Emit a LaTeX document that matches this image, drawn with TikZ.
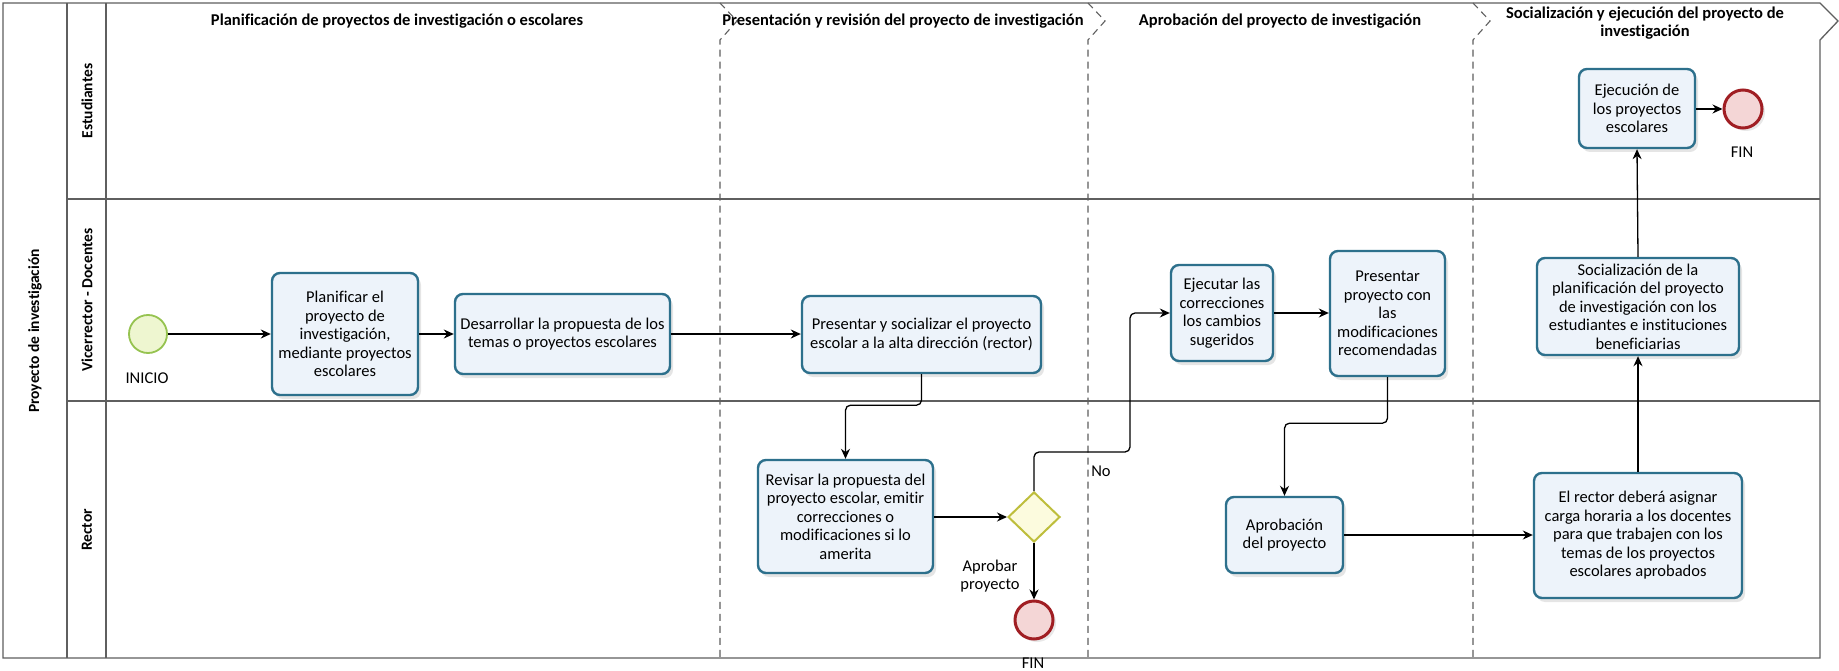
\documentclass[tikz,border=0pt]{standalone}
\usepackage{fontspec}
\setmainfont{Carlito}[Ligatures={NoCommon}]
\usetikzlibrary{shapes.geometric,arrows.meta,shadows}

\definecolor{taskfill}{RGB}{237,243,250}
\definecolor{taskline}{RGB}{45,112,140}
\definecolor{startfill}{RGB}{238,246,208}
\definecolor{startline}{RGB}{150,195,80}
\definecolor{gwfill}{RGB}{252,251,222}
\definecolor{gwline}{RGB}{190,190,60}
\definecolor{endfill}{RGB}{244,214,214}
\definecolor{endline}{RGB}{160,30,35}
\definecolor{poolline}{RGB}{95,95,95}

\tikzset{
  txt/.style={font=\fontsize{16.5}{18.5}\selectfont},
  hdr/.style={font=\fontsize{16.5}{18.5}\selectfont\bfseries, align=center},
  lanelbl/.style={font=\fontsize{15.5}{18}\selectfont\bfseries, rotate=90},
  task/.style={txt, rectangle, rounded corners=8pt, draw=taskline, line width=2.4pt,
    fill=taskfill, align=center, inner sep=1pt,
    drop shadow={opacity=0.2, shadow xshift=3pt, shadow yshift=-4pt}},
  startev/.style={circle, draw=startline, fill=startfill, line width=1.8pt,
    minimum size=38pt, inner sep=0pt},
  endev/.style={circle, draw=endline, fill=endfill, line width=3pt,
    minimum size=38pt, inner sep=0pt,
    drop shadow={opacity=0.18, shadow xshift=3pt, shadow yshift=-3pt}},
  gateway/.style={diamond, draw=gwline, fill=gwfill, line width=2pt,
    minimum width=52pt, minimum height=50pt, inner sep=0pt},
  flow/.style={draw=black, line width=1.3pt, rounded corners=5pt,
    -{Stealth[length=10pt,width=9pt]}},
  frame/.style={draw=poolline, line width=1.3pt},
  phase/.style={draw=poolline, line width=1.1pt, dash pattern=on 7pt off 5pt},
}

\begin{document}
\begin{tikzpicture}[x=1pt,y=-1pt]
\useasboundingbox (0,0) rectangle (1839,671);
\fill[white] (0,0) rectangle (1839,671);

% pool outline with the arrow-shaped last phase header
\draw[frame] (3,3) -- (1820,3) -- (1838,21) -- (1820,40) -- (1820,658) -- (3,658) -- cycle;
\draw[frame] (67,3) -- (67,658);
\draw[frame] (106,3) -- (106,658);
\draw[frame] (67,199) -- (1820,199);
\draw[frame] (67,401) -- (1820,401);

% phase separators
\foreach \px in {720,1088,1473}
  \draw[phase] (\px,3) -- (\px+17,21) -- (\px,40) -- (\px,658);

% pool and lane titles
\node[lanelbl] (pool) at (35,331) {Proyecto de investigación};
\node[lanelbl] (lane1) at (87,101) {Estudiantes};
\node[lanelbl] (lane2) at (87,300) {Vicerrector - Docentes};
\node[lanelbl] (lane3) at (87,530) {Rector};

% phase titles
\node[hdr] (ph1) at (397,21) {Planificación de proyectos de investigación o escolares};
\node[hdr] (ph2) at (903,21) {Presentación y revisión del proyecto de investigación};
\node[hdr] (ph3) at (1280,21) {Aprobación del proyecto de investigación};
\node[hdr] (ph4) at (1645,23) {Socialización y ejecución del proyecto de\\investigación};

% events and gateway
\node[startev] (start) at (148,334) {};
\node[txt] (startlbl) at (147,378) {INICIO};
\node[gateway] (gw) at (1034,517) {};
\node[endev] (end1) at (1034,620) {};
\node[txt] (end1lbl) at (1033,663) {FIN};
\node[endev] (end2) at (1743,109) {};
\node[txt] (end2lbl) at (1742,152) {FIN};
\node[txt, align=center] (gwlbl) at (990,576) {Aprobar\\proyecto};
\node[txt] (nolbl) at (1101,471) {No};

% tasks
\node[task, minimum width=146pt, minimum height=122pt] (t1) at (345,334)
  {Planificar el\\proyecto de\\investigación,\\mediante proyectos\\escolares};
\node[task, minimum width=215pt, minimum height=80pt] (t2) at (562.5,334)
  {Desarrollar la propuesta de los\\temas o proyectos escolares};
\node[task, minimum width=239pt, minimum height=77pt] (t3) at (921.5,334.5)
  {Presentar y socializar el proyecto\\escolar a la alta dirección (rector)};
\node[task, minimum width=175pt, minimum height=113pt] (t4) at (845.5,516.5)
  {Revisar la propuesta del\\proyecto escolar, emitir\\correcciones o\\modificaciones si lo\\amerita};
\node[task, minimum width=102pt, minimum height=96pt] (t5) at (1222,313)
  {Ejecutar las\\correcciones\\los cambios\\sugeridos};
\node[task, minimum width=115pt, minimum height=125pt] (t6) at (1387.5,313.5)
  {Presentar\\proyecto con\\las\\modificaciones\\recomendadas};
\node[task, minimum width=117pt, minimum height=76pt] (t7) at (1284.5,535)
  {Aprobación\\del proyecto};
\node[task, minimum width=208pt, minimum height=125pt] (t8) at (1638,535.5)
  {El rector deberá asignar\\carga horaria a los docentes\\para que trabajen con los\\temas de los proyectos\\escolares aprobados};
\node[task, minimum width=202pt, minimum height=97pt] (t9) at (1638,306.5)
  {Socialización de la\\planificación del proyecto\\de investigación con los\\estudiantes e instituciones\\beneficiarias};
\node[task, minimum width=116pt, minimum height=79pt] (t10) at (1637,108.5)
  {Ejecución de\\los proyectos\\escolares};

\coordinate (noturn) at (1130,452);

% sequence flows
\draw[flow] (start) -- (t1);
\draw[flow] (t1) -- (t2);
\draw[flow] (t2.east) -- (t3.west |- t2.east);
\draw[flow] (t3.south) -- ++(0,31) -| (t4.north);
\draw[flow] (t4.east |- gw.west) -- (gw.west);
\draw[flow] (gw.south) -- (end1.north);
\draw[flow] (gw.north) |- (noturn) |- (t5.west);
\draw[flow] (t5.east) -- (t6.west |- t5.east);
\draw[flow] (t6.south) -- ++(0,46) -| (t7.north);
\draw[flow] (t7.east) -- (t8.west |- t7.east);
\draw[flow] (t8.north) -- (t9.south);
\draw[flow] (t9.north) -- (t10.south);
\draw[flow] (t10.east |- end2.west) -- (end2.west);
\end{tikzpicture}
\end{document}
